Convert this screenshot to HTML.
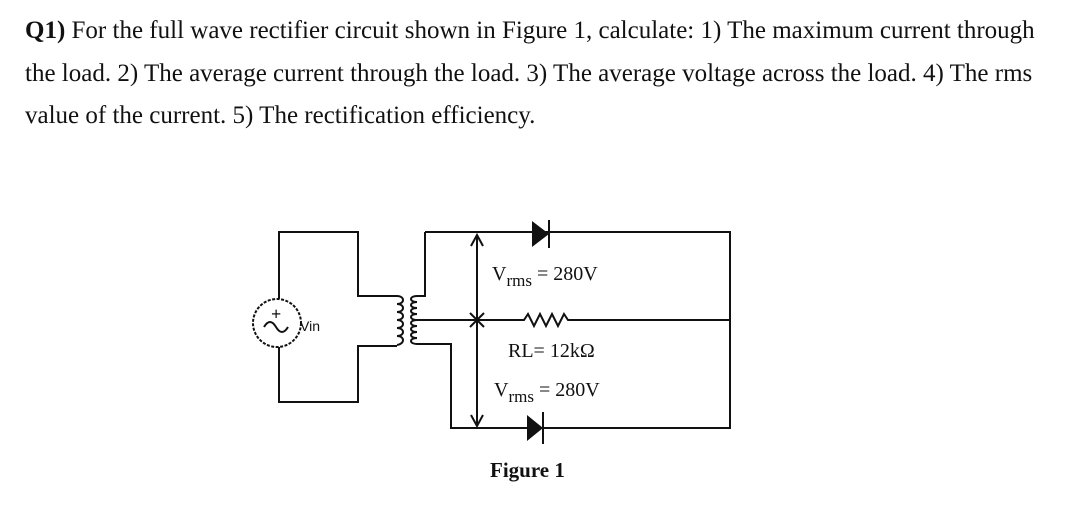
<!DOCTYPE html>
<html><head><style>
body{margin:0;width:1080px;height:518px;background:#fff;overflow:hidden;position:relative;font-family:"Liberation Serif",serif;color:#111}
.t{position:absolute;left:25px;font-size:25px;white-space:nowrap;line-height:28px}
</style></head><body>
<div class="t" style="top:17px"><b>Q1)</b> For the full wave rectifier circuit shown in Figure 1, calculate: 1) The maximum current through</div>
<div class="t" style="top:60px">the load. 2) The average current through the load. 3) The average voltage across the load. 4) The rms</div>
<div class="t" style="top:102px">value of the current. 5) The rectification efficiency.</div>
<svg width="1080" height="518" style="position:absolute;left:0;top:0" font-family="Liberation Serif, serif">
<g fill="none" stroke="#111" stroke-width="2">
<path d="M279 299V232H358V296H397"/>
<path d="M279 347V402H358V346H397"/>
<circle cx="277" cy="323" r="24" stroke-dasharray="3 1.5"/>
<path d="M264 327q6-10 12 0t12 0" />
<path d="M397 296c8 0 8 8 0 8c8 0 8 8 0 8c8 0 8 8 0 8c8 0 8 8 0 8c8 0 8 8 0 8c8 0 8 8 0 9"/>
<path d="M425 232V296H417c-8 0-8 6 0 6c-8 0-8 6 0 6c-8 0-8 6 0 6c-8 0-8 6 0 6M417 320c-8 0-8 6 0 6c-8 0-8 6 0 6c-8 0-8 6 0 6c-8 0-8 6 0 6H451V428H730V232H425"/>
<path d="M417 320H524l4-6 6 12 6-12 6 12 6-12 6 12 6-12 4 6H730"/>
<path d="M477 235V426M471 246l6-11 6 11M471 415l6 11 6-11M470 313l14 14M484 313l-14 14"/>
<path d="M549 220V248M543 412V444"/>
</g>
<polygon points="532,221 532,247 549,234" fill="#111"/>
<polygon points="527,415 527,441 543,428" fill="#111"/>
<text x="300" y="331" font-family="Liberation Sans, sans-serif" font-size="14" fill="#111">Vin</text>
<text x="271" y="320" font-size="18" fill="#111" font-weight="bold">+</text>
<text x="492" y="280" font-size="20" fill="#111">V<tspan font-size="17" dy="6">rms</tspan><tspan dy="-6"> = 280V</tspan></text>
<text x="508" y="357" font-size="20" fill="#111">RL= 12kΩ</text>
<text x="494" y="396" font-size="20" fill="#111">V<tspan font-size="17" dy="6">rms</tspan><tspan dy="-6"> = 280V</tspan></text>
<text x="490" y="477" font-size="21" font-weight="bold" fill="#111">Figure 1</text>
</svg>
</body></html>
